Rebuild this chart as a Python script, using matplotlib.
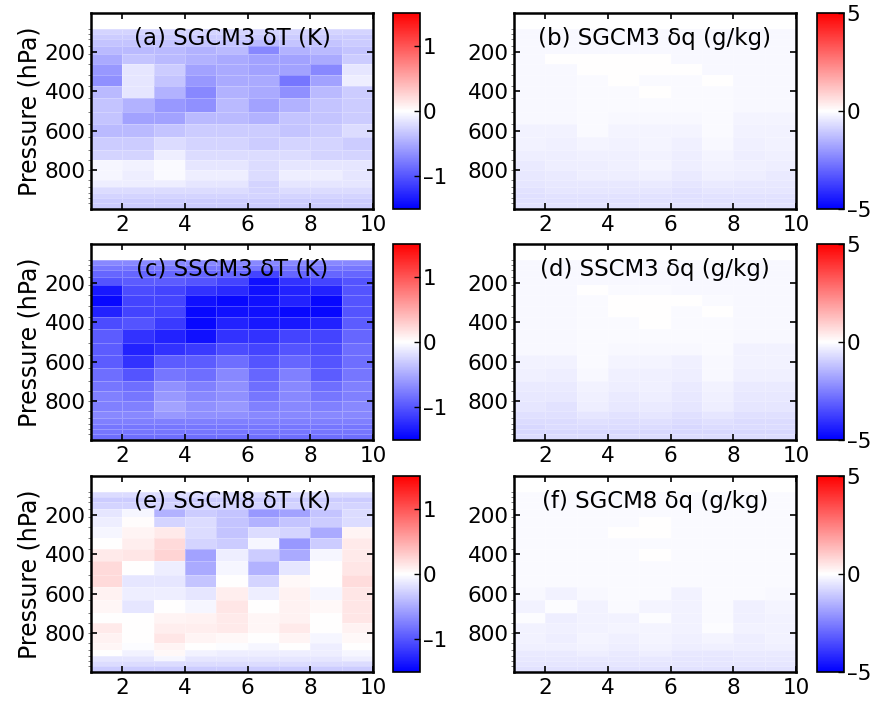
import numpy as np
import matplotlib.pyplot as plt

plt.rcParams['font.family'] = ['DejaVu Sans']

# grid: 10 x points -> 9 cells, pressure cell edges (hPa)
x_edges = [1, 2, 3, 4, 5, 6, 7, 8, 9, 10]
p_edges = [82, 105, 133, 170, 208, 258, 318, 374, 436, 506, 568,
           633, 698, 751, 803, 852, 888, 920, 946, 971, 1000]

titles = ['(a) SGCM3 δT (K)', '(b) SGCM3 δq (g/kg)',
          '(c) SSCM3 δT (K)', '(d) SSCM3 δq (g/kg)',
          '(e) SGCM8 δT (K)', '(f) SGCM8 δq (g/kg)']

dT_sgcm3 = [
    [-0.25, -0.25, -0.25, -0.25, -0.25, -0.25, -0.25, -0.25, -0.25],
    [-0.3, -0.3, -0.3, -0.3, -0.3, -0.3, -0.3, -0.3, -0.3],
    [-0.35, -0.35, -0.35, -0.35, -0.35, -0.4, -0.35, -0.35, -0.3],
    [-0.4, -0.4, -0.4, -0.45, -0.4, -0.7, -0.45, -0.4, -0.35],
    [-0.5, -0.35, -0.4, -0.45, -0.5, -0.55, -0.55, -0.5, -0.3],
    [-0.6, -0.15, -0.3, -0.55, -0.5, -0.55, -0.55, -0.7, -0.15],
    [-0.65, -0.15, -0.35, -0.6, -0.5, -0.5, -0.8, -0.55, -0.1],
    [-0.4, -0.15, -0.45, -0.7, -0.45, -0.5, -0.65, -0.4, -0.3],
    [-0.35, -0.45, -0.6, -0.65, -0.4, -0.55, -0.45, -0.35, -0.3],
    [-0.35, -0.55, -0.55, -0.4, -0.4, -0.45, -0.35, -0.35, -0.3],
    [-0.4, -0.4, -0.35, -0.3, -0.3, -0.3, -0.35, -0.3, -0.2],
    [-0.3, -0.3, -0.2, -0.25, -0.25, -0.3, -0.25, -0.25, -0.3],
    [-0.25, -0.25, -0.1, -0.2, -0.2, -0.2, -0.2, -0.25, -0.25],
    [-0.05, -0.08, -0.03, -0.15, -0.15, -0.2, -0.15, -0.15, -0.15],
    [-0.05, -0.1, -0.03, -0.1, -0.1, -0.2, -0.1, -0.1, -0.15],
    [-0.1, -0.1, -0.1, -0.15, -0.15, -0.25, -0.15, -0.15, -0.15],
    [-0.2, -0.2, -0.2, -0.2, -0.2, -0.25, -0.2, -0.2, -0.2],
    [-0.25, -0.25, -0.25, -0.25, -0.25, -0.25, -0.25, -0.25, -0.25],
    [-0.3, -0.3, -0.3, -0.3, -0.3, -0.3, -0.3, -0.3, -0.3],
    [-0.3, -0.3, -0.3, -0.3, -0.3, -0.3, -0.3, -0.3, -0.3],
]

dT_sscm3 = [
    [-0.7, -0.7, -0.7, -0.7, -0.7, -0.7, -0.7, -0.7, -0.7],
    [-0.8, -0.8, -0.8, -0.8, -0.8, -0.8, -0.8, -0.8, -0.8],
    [-0.9, -0.9, -0.9, -0.9, -0.9, -1.1, -0.9, -0.9, -0.9],
    [-1.0, -0.95, -0.95, -1.0, -1.1, -1.4, -1.2, -1.1, -1.0],
    [-1.35, -1.05, -1.1, -1.2, -1.25, -1.4, -1.3, -1.3, -1.0],
    [-1.45, -1.1, -1.1, -1.4, -1.45, -1.4, -1.3, -1.45, -1.0],
    [-1.3, -1.1, -1.1, -1.45, -1.4, -1.4, -1.45, -1.45, -1.0],
    [-1.05, -1.0, -1.15, -1.45, -1.3, -1.35, -1.35, -1.3, -0.95],
    [-0.95, -1.2, -1.3, -1.4, -1.2, -1.2, -1.1, -1.1, -0.9],
    [-0.95, -1.3, -1.2, -1.15, -1.05, -1.1, -1.0, -1.05, -0.85],
    [-0.95, -1.2, -0.95, -0.95, -0.85, -1.0, -0.9, -1.0, -0.85],
    [-0.85, -1.0, -0.8, -0.85, -0.7, -0.9, -0.75, -0.95, -0.8],
    [-0.8, -0.85, -0.65, -0.75, -0.65, -0.85, -0.7, -0.85, -0.75],
    [-0.75, -0.8, -0.6, -0.7, -0.65, -0.8, -0.7, -0.8, -0.75],
    [-0.75, -0.75, -0.55, -0.65, -0.6, -0.75, -0.7, -0.75, -0.7],
    [-0.7, -0.7, -0.6, -0.65, -0.65, -0.7, -0.7, -0.7, -0.7],
    [-0.75, -0.75, -0.75, -0.75, -0.75, -0.75, -0.75, -0.75, -0.75],
    [-0.8, -0.8, -0.8, -0.8, -0.8, -0.8, -0.8, -0.8, -0.8],
    [-0.8, -0.8, -0.8, -0.8, -0.8, -0.8, -0.8, -0.8, -0.8],
    [-0.85, -0.85, -0.85, -0.85, -0.85, -0.85, -0.85, -0.85, -0.85],
]

dT_sgcm8 = [
    [-0.2, -0.2, -0.2, -0.2, -0.2, -0.2, -0.2, -0.2, -0.2],
    [-0.3, -0.3, -0.3, -0.3, -0.3, -0.3, -0.3, -0.3, -0.3],
    [-0.25, -0.25, -0.25, -0.25, -0.25, -0.25, -0.25, -0.25, -0.25],
    [-0.15, -0.05, -0.45, -0.3, -0.35, -0.6, -0.55, -0.35, -0.2],
    [-0.1, 0.02, -0.25, -0.2, -0.35, -0.45, -0.35, -0.3, -0.2],
    [-0.05, 0.06, 0.12, -0.2, -0.35, -0.2, -0.25, -0.5, 0.06],
    [0.0, 0.1, 0.22, -0.25, -0.3, -0.05, -0.6, -0.3, 0.12],
    [0.12, 0.15, 0.25, -0.55, -0.1, -0.3, -0.5, -0.05, 0.12],
    [0.22, 0.0, -0.1, -0.5, -0.05, -0.45, -0.15, 0.0, 0.15],
    [0.22, -0.15, -0.15, -0.35, 0.0, -0.25, 0.04, 0.0, 0.2],
    [0.08, -0.1, -0.1, -0.15, 0.1, -0.1, 0.08, -0.05, 0.15],
    [0.05, -0.15, 0.0, -0.05, 0.15, 0.0, 0.08, 0.04, 0.15],
    [0.0, 0.0, 0.06, 0.08, 0.12, 0.05, 0.08, 0.0, 0.15],
    [0.12, 0.0, 0.1, 0.1, 0.12, 0.05, 0.12, 0.0, 0.08],
    [0.08, 0.0, 0.15, 0.06, 0.04, 0.0, 0.06, -0.05, 0.04],
    [0.05, -0.02, 0.06, 0.0, -0.02, -0.05, 0.0, -0.1, 0.0],
    [0.0, -0.08, 0.04, -0.08, -0.1, -0.1, -0.1, -0.1, -0.05],
    [-0.15, -0.15, -0.05, -0.15, -0.15, -0.15, -0.15, -0.15, -0.1],
    [-0.2, -0.2, -0.2, -0.2, -0.2, -0.2, -0.2, -0.2, -0.2],
    [-0.3, -0.3, -0.3, -0.3, -0.3, -0.3, -0.3, -0.3, -0.3],
]

dq_sgcm3 = [
    [-0.12, -0.12, -0.12, -0.12, -0.12, -0.12, -0.12, -0.12, -0.12],
    [-0.12, -0.12, -0.12, -0.12, -0.12, -0.12, -0.12, -0.12, -0.12],
    [-0.12, -0.12, -0.12, -0.12, -0.12, -0.12, -0.12, -0.12, -0.12],
    [-0.12, -0.12, -0.12, -0.12, -0.12, -0.12, -0.12, -0.12, -0.12],
    [-0.12, 0.0, 0.0, 0.0, 0.0, -0.12, -0.12, -0.12, -0.12],
    [-0.12, -0.12, 0.0, 0.0, 0.0, 0.0, -0.12, -0.12, -0.12],
    [-0.12, -0.12, -0.1, 0.0, -0.1, -0.1, 0.0, -0.12, -0.12],
    [-0.12, -0.12, -0.1, -0.1, 0.0, -0.1, -0.1, -0.12, -0.12],
    [-0.12, -0.12, -0.1, -0.1, -0.1, -0.1, -0.1, -0.12, -0.12],
    [-0.15, -0.15, -0.08, -0.12, -0.12, -0.12, -0.08, -0.2, -0.2],
    [-0.25, -0.25, -0.08, -0.2, -0.2, -0.2, -0.08, -0.25, -0.25],
    [-0.25, -0.3, -0.2, -0.25, -0.2, -0.3, -0.15, -0.3, -0.25],
    [-0.35, -0.35, -0.3, -0.3, -0.25, -0.35, -0.2, -0.35, -0.3],
    [-0.4, -0.35, -0.35, -0.3, -0.2, -0.35, -0.25, -0.3, -0.35],
    [-0.45, -0.4, -0.35, -0.35, -0.3, -0.4, -0.3, -0.35, -0.4],
    [-0.5, -0.45, -0.45, -0.45, -0.4, -0.5, -0.4, -0.45, -0.45],
    [-0.55, -0.5, -0.5, -0.5, -0.5, -0.55, -0.5, -0.5, -0.5],
    [-0.6, -0.55, -0.55, -0.55, -0.55, -0.6, -0.55, -0.55, -0.55],
    [-0.6, -0.6, -0.6, -0.6, -0.6, -0.6, -0.6, -0.6, -0.6],
    [-0.55, -0.55, -0.55, -0.55, -0.55, -0.55, -0.55, -0.55, -0.55],
]

dq_sscm3 = [
    [-0.12, -0.12, -0.12, -0.12, -0.12, -0.12, -0.12, -0.12, -0.12],
    [-0.12, -0.12, -0.12, -0.12, -0.12, -0.12, -0.12, -0.12, -0.12],
    [-0.12, -0.12, -0.12, -0.12, -0.12, -0.12, -0.12, -0.12, -0.12],
    [-0.12, -0.12, -0.12, -0.12, -0.12, -0.12, -0.12, -0.12, -0.12],
    [-0.12, -0.12, 0.0, -0.1, -0.1, -0.12, -0.12, -0.12, -0.12],
    [-0.12, -0.12, -0.1, 0.0, 0.0, 0.0, -0.1, -0.12, -0.12],
    [-0.12, -0.12, -0.1, 0.0, 0.0, -0.1, 0.0, -0.12, -0.12],
    [-0.12, -0.12, -0.1, -0.1, 0.0, -0.1, -0.1, -0.12, -0.12],
    [-0.12, -0.12, -0.1, -0.1, -0.1, -0.1, -0.1, -0.12, -0.12],
    [-0.15, -0.15, -0.1, -0.12, -0.12, -0.12, -0.1, -0.25, -0.25],
    [-0.25, -0.25, -0.1, -0.2, -0.2, -0.3, -0.12, -0.25, -0.25],
    [-0.3, -0.35, -0.15, -0.3, -0.3, -0.35, -0.15, -0.3, -0.3],
    [-0.4, -0.4, -0.25, -0.35, -0.3, -0.4, -0.25, -0.4, -0.4],
    [-0.45, -0.45, -0.3, -0.4, -0.35, -0.45, -0.3, -0.45, -0.45],
    [-0.5, -0.55, -0.35, -0.45, -0.4, -0.5, -0.35, -0.5, -0.5],
    [-0.6, -0.6, -0.5, -0.55, -0.5, -0.6, -0.5, -0.6, -0.6],
    [-0.7, -0.7, -0.6, -0.65, -0.6, -0.7, -0.6, -0.7, -0.7],
    [-0.75, -0.7, -0.7, -0.7, -0.7, -0.75, -0.7, -0.7, -0.7],
    [-0.75, -0.75, -0.75, -0.75, -0.75, -0.75, -0.75, -0.75, -0.75],
    [-0.7, -0.7, -0.7, -0.7, -0.7, -0.7, -0.7, -0.7, -0.7],
]

dq_sgcm8 = [
    [-0.1, -0.1, -0.1, -0.1, -0.1, -0.1, -0.1, -0.1, -0.1],
    [-0.1, -0.1, -0.1, -0.1, -0.1, -0.1, -0.1, -0.1, -0.1],
    [-0.1, -0.1, -0.1, -0.1, -0.1, -0.1, -0.1, -0.1, -0.1],
    [-0.1, -0.1, -0.1, -0.1, -0.1, -0.1, -0.1, -0.1, -0.1],
    [-0.1, -0.1, -0.1, -0.1, 0.0, -0.1, -0.1, -0.1, -0.1],
    [-0.1, -0.1, -0.1, 0.0, 0.0, -0.1, -0.1, -0.1, -0.1],
    [-0.1, -0.1, -0.1, -0.08, -0.08, -0.1, -0.1, -0.1, -0.1],
    [-0.1, -0.1, -0.1, -0.08, 0.0, -0.1, -0.1, -0.1, -0.1],
    [-0.1, -0.1, -0.1, -0.08, -0.08, -0.1, -0.1, -0.1, -0.1],
    [-0.1, -0.1, -0.1, -0.08, -0.08, -0.1, -0.08, -0.1, -0.1],
    [-0.12, -0.25, -0.12, -0.1, -0.1, -0.25, -0.1, -0.1, -0.12],
    [-0.25, -0.05, -0.25, -0.1, -0.2, -0.25, -0.1, -0.3, -0.2],
    [-0.05, -0.35, -0.25, -0.25, -0.05, -0.25, -0.1, -0.3, -0.25],
    [-0.25, -0.3, -0.25, -0.2, -0.2, -0.25, -0.05, -0.25, -0.25],
    [-0.25, -0.35, -0.2, -0.3, -0.2, -0.3, -0.2, -0.35, -0.25],
    [-0.3, -0.3, -0.25, -0.35, -0.25, -0.35, -0.3, -0.35, -0.3],
    [-0.4, -0.4, -0.35, -0.4, -0.35, -0.45, -0.45, -0.4, -0.4],
    [-0.45, -0.45, -0.45, -0.45, -0.45, -0.5, -0.5, -0.45, -0.45],
    [-0.5, -0.5, -0.5, -0.5, -0.5, -0.5, -0.5, -0.5, -0.5],
    [-0.55, -0.55, -0.55, -0.55, -0.55, -0.55, -0.55, -0.55, -0.55],
]

panels = [dT_sgcm3, dq_sgcm3, dT_sscm3, dq_sscm3, dT_sgcm8, dq_sgcm8]
cbar_ticks = [[-1, 0, 1], [-5, 0, 5]]
cbar_labels = [['–1', '0', '1'], ['–5', '0', '5']]

W, H = 877, 703
fig = plt.figure(figsize=(W / 100, H / 100), dpi=100)

ax_left = [91, 514]
cb_left = [393, 817]
ax_top = [13, 244, 476]
ax_w, ax_h, cb_w = 282, 196, 27
fs = 15.5

for i, data in enumerate(panels):
    row, col = divmod(i, 2)
    lim = 1.5 if col == 0 else 5
    ax = fig.add_axes([ax_left[col] / W, 1 - (ax_top[row] + ax_h) / H,
                       ax_w / W, ax_h / H])
    mesh = ax.pcolormesh(x_edges, p_edges, np.array(data), cmap='bwr',
                         vmin=-lim, vmax=lim,
                         edgecolors=(1, 1, 1, 0.25), linewidth=0.4)
    ax.set_xlim(1, 10)
    ax.set_ylim(1000, 0)
    ax.set_xticks([2, 4, 6, 8, 10])
    ax.set_yticks([200, 400, 600, 800])
    ax.set_yticks(p_edges[:-1], minor=True)
    ax.tick_params(direction='in', length=4, width=1.2, labelsize=fs,
                   top=True, right=True, pad=4)
    ax.tick_params(axis='y', which='minor', length=2, width=0.6,
                   color='0.4', left=True, right=False)
    for s in ax.spines.values():
        s.set_linewidth(1.8)
    ax.text(0.5, 0.87, titles[i], transform=ax.transAxes, ha='center',
            va='center', fontsize=16.5)
    if col == 0:
        ax.set_ylabel('Pressure (hPa)', fontsize=17, labelpad=2)

    cax = fig.add_axes([cb_left[col] / W, 1 - (ax_top[row] + ax_h) / H,
                        cb_w / W, ax_h / H])
    cb = fig.colorbar(mesh, cax=cax, ticks=cbar_ticks[col])
    cb.ax.set_yticklabels(cbar_labels[col])
    cb.ax.tick_params(direction='in', length=4, width=1, labelsize=fs,
                      pad=2)
    cb.outline.set_linewidth(1.2)

fig.savefig('out.png', dpi=100)
